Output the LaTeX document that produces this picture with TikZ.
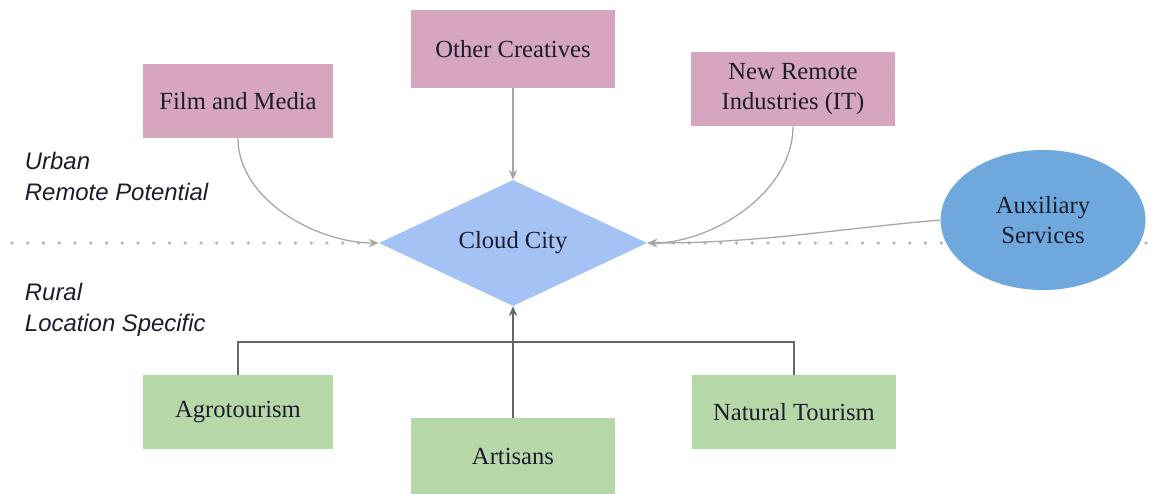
\documentclass[tikz,border=0pt]{standalone}
\usepackage{fontspec}
\setmainfont{Liberation Serif}
\newfontfamily\labelfont{Liberation Sans}
\usetikzlibrary{arrows.meta,shapes.geometric}
\definecolor{pinkfill}{HTML}{D5A6BD}
\definecolor{greenfill}{HTML}{B6D7A8}
\definecolor{bluefill}{HTML}{A4C2F4}
\definecolor{ovalfill}{HTML}{6FA8DC}
\definecolor{linkgray}{HTML}{A6A6A6}
\definecolor{treegray}{HTML}{666666}
\definecolor{ink}{HTML}{1C1C2E}
\tikzset{
  urbanbox/.style={rectangle, fill=pinkfill, minimum width=4.75cm, minimum height=1.85cm,
    align=center, font=\fontsize{17.5}{21}\selectfont, text=ink},
  ruralbox/.style={urbanbox, fill=greenfill},
  hub/.style={diamond, fill=bluefill, minimum width=6.7cm, minimum height=3.15cm, aspect=2.1,
    inner sep=0pt, font=\fontsize{17.5}{21}\selectfont, text=ink},
  service/.style={ellipse, fill=ovalfill, minimum width=5.12cm, minimum height=3.5cm,
    inner sep=0pt, align=center, font=\fontsize{17.5}{21}\selectfont, text=ink},
  feed/.style={-{Stealth[length=7pt,width=6pt]}, draw=linkgray, line width=.9pt},
  tree/.style={draw=treegray, line width=.9pt},
  zone/.style={anchor=west, align=left, font=\labelfont\itshape\fontsize{17}{22}\selectfont, text=ink}
}

\begin{document}
\begin{tikzpicture}[x=0.025cm,y=-0.025cm]
  \useasboundingbox (0,0) rectangle (1160,494);
  \draw[linkgray!80, line width=2.6pt, dash pattern=on 0pt off 11.2pt, line cap=round] (12,243) -- (1160,243);

  \node[zone] (urban) at (20,176) {Urban\\Remote Potential};
  \node[zone] (rural) at (20,310) {Rural\\Location Specific};

  \node[urbanbox] (film) at (238,101) {Film and Media};
  \node[urbanbox, minimum width=5.12cm, minimum height=1.95cm] (other) at (513,49) {Other Creatives};
  \node[urbanbox, minimum width=5.08cm] (remote) at (793,89) {New Remote\\Industries (IT)};

  \node[hub] (cloud) at (513,243) {Cloud City};
  \node[service] (aux) at (1043,220) {Auxiliary\\Services};

  \node[ruralbox] (agro) at (238,412) {Agrotourism};
  \node[ruralbox, minimum width=5.12cm, minimum height=1.9cm] (artisans) at (513,456) {Artisans};
  \node[ruralbox, minimum width=5.1cm] (nature) at (794,412) {Natural Tourism};

  \draw[feed] (film.south) to[out=-90, in=180, looseness=.9] (cloud.west);
  \draw[feed] (other.south) -- (cloud.north);
  \draw[feed] (remote.south) to[out=-90, in=0, looseness=.9] (cloud.east);
  \draw[feed] (aux.west) to[out=185, in=0] (cloud.east);

  \coordinate (fork) at (513,342);
  \draw[tree] (agro.north) |- (fork) -| (nature.north);
  \draw[tree, -{Stealth[length=7pt,width=6pt]}] (artisans.north) -- (cloud.south);
\end{tikzpicture}
\end{document}
